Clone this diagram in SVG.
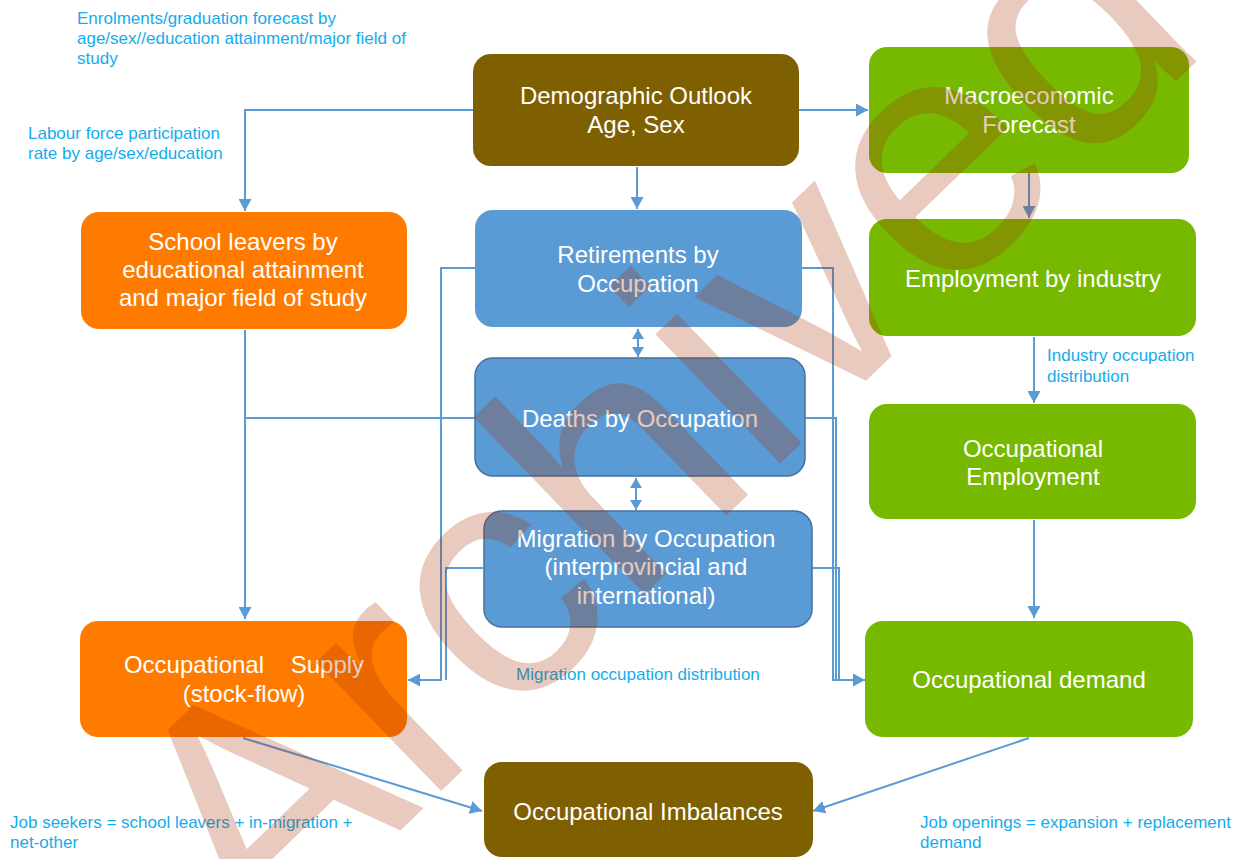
<svg xmlns="http://www.w3.org/2000/svg" width="1238" height="859" viewBox="0 0 1238 859">
<defs>
<marker id="ah" markerUnits="userSpaceOnUse" markerWidth="13" markerHeight="13" refX="12" refY="6.5" orient="auto-start-reverse">
<path d="M0,0 L12,6.5 L0,13 z" fill="#5B9BD5"/>
</marker>
<marker id="ahs" markerUnits="userSpaceOnUse" markerWidth="12" markerHeight="12" refX="10" refY="6" orient="auto-start-reverse">
<path d="M0,0 L10,6 L0,12 z" fill="#5B9BD5"/>
</marker>
<style>
.bx{stroke:none}
.brown{fill:#7F6000}
.green{fill:#77B900}
.orange{fill:#FF7B00}
.blue{fill:#5B9BD5}
.blueb{fill:#5B9BD5;stroke:#41719C;stroke-width:1.5}
.t{font-family:"Liberation Sans",Arial,sans-serif;font-size:24px;fill:#FFFFFF;text-anchor:middle}
.lbl{font-family:"Liberation Sans",Arial,sans-serif;font-size:17px;fill:#14ACEB}
.c{fill:none;stroke:#5B9BD5;stroke-width:2}
.wm{font-family:"Liberation Sans",Arial,sans-serif;font-size:340px;fill:#A72F00;opacity:0.25}
</style>
</defs>
<rect width="1238" height="859" fill="#FFFFFF"/>

<g id="labels">
<text class="lbl" x="77" y="24">Enrolments/graduation forecast by</text>
<text class="lbl" x="77" y="44">age/sex//education attainment/major field of</text>
<text class="lbl" x="77" y="64">study</text>
<text class="lbl" x="28" y="139">Labour force participation</text>
<text class="lbl" x="28" y="159">rate by age/sex/education</text>
<text class="lbl" x="1047" y="361">Industry occupation</text>
<text class="lbl" x="1047" y="382">distribution</text>
<text class="lbl" x="516" y="680">Migration occupation distribution</text>
<text class="lbl" x="10" y="828">Job seekers = school leavers + in-migration +</text>
<text class="lbl" x="10" y="848">net-other</text>
<text class="lbl" x="920" y="828">Job openings = expansion + replacement</text>
<text class="lbl" x="920" y="848">demand</text>
</g>

<g id="connectors">
<path class="c" d="M473,110 H245 V211" marker-end="url(#ah)"/>
<path class="c" d="M799,110 H868" marker-end="url(#ah)"/>
<path class="c" d="M637,167 V209" marker-end="url(#ah)"/>
<path class="c" d="M1029,173 V218" marker-end="url(#ah)"/>
<path class="c" d="M1034,337 V403" marker-end="url(#ah)"/>
<path class="c" d="M1034,520 V618" marker-end="url(#ah)"/>
<path class="c" d="M245,330 V619" marker-end="url(#ah)"/>
<path class="c" d="M475,418 H245"/>
<path class="c" d="M475,268 H441 V680 H408" marker-end="url(#ah)"/>
<path class="c" d="M483,568 H446 V680"/>
<path class="c" d="M801,268 H833 V680 H865" marker-end="url(#ah)"/>
<path class="c" d="M805,418 H836 V680"/>
<path class="c" d="M812,568 H839 V680"/>
<path class="c" d="M638,329 V357" marker-start="url(#ahs)" marker-end="url(#ahs)"/>
<path class="c" d="M636,478 V510" marker-start="url(#ahs)" marker-end="url(#ahs)"/>
<path class="c" d="M243,738 L482,811" marker-end="url(#ah)"/>
<path class="c" d="M1029,738 L813,811" marker-end="url(#ah)"/>
</g>

<g id="demographic">
<rect class="bx brown" x="473" y="54" width="326" height="112" rx="18"/>
<text class="t" x="636" y="104">Demographic Outlook</text>
<text class="t" x="636" y="133">Age, Sex</text>
</g>
<g id="macro">
<rect class="bx green" x="869" y="47" width="320" height="126" rx="18"/>
<text class="t" x="1029" y="104">Macroeconomic</text>
<text class="t" x="1029" y="133">Forecast</text>
</g>
<g id="school-leavers">
<rect class="bx orange" x="81" y="212" width="326" height="117" rx="18"/>
<text class="t" x="243" y="250">School leavers by</text>
<text class="t" x="243" y="278">educational attainment</text>
<text class="t" x="243" y="306">and major field of study</text>
</g>
<g id="retirements">
<rect class="bx blue" x="475" y="210" width="327" height="117" rx="18"/>
<text class="t" x="638" y="263">Retirements by</text>
<text class="t" x="638" y="292">Occupation</text>
</g>
<g id="employment-industry">
<rect class="bx green" x="869" y="219" width="327" height="117" rx="18"/>
<text class="t" x="1033" y="287">Employment by industry</text>
</g>
<g id="deaths">
<rect class="blueb" x="475" y="358" width="330" height="118" rx="18"/>
<text class="t" x="640" y="427">Deaths by Occupation</text>
</g>
<g id="occupational-employment">
<rect class="bx green" x="869" y="404" width="327" height="115" rx="18"/>
<text class="t" x="1033" y="457">Occupational</text>
<text class="t" x="1033" y="485">Employment</text>
</g>
<g id="migration">
<rect class="blueb" x="484" y="511" width="328" height="116" rx="18"/>
<text class="t" x="646" y="547">Migration by Occupation</text>
<text class="t" x="646" y="575">(interprovincial and</text>
<text class="t" x="646" y="604">international)</text>
</g>
<g id="occupational-supply">
<rect class="bx orange" x="80" y="621" width="327" height="116" rx="18"/>
<text class="t" x="244" y="673" xml:space="preserve">Occupational    Supply</text>
<text class="t" x="244" y="702">(stock-flow)</text>
</g>
<g id="occupational-demand">
<rect class="bx green" x="865" y="621" width="328" height="116" rx="18"/>
<text class="t" x="1029" y="688">Occupational demand</text>
</g>
<g id="imbalances">
<rect class="bx brown" x="484" y="762" width="329" height="95" rx="18"/>
<text class="t" x="648" y="820">Occupational Imbalances</text>
</g>

<g id="watermark">
<text class="wm" transform="translate(261,965) rotate(-44)">Archived</text>
</g>
</svg>
